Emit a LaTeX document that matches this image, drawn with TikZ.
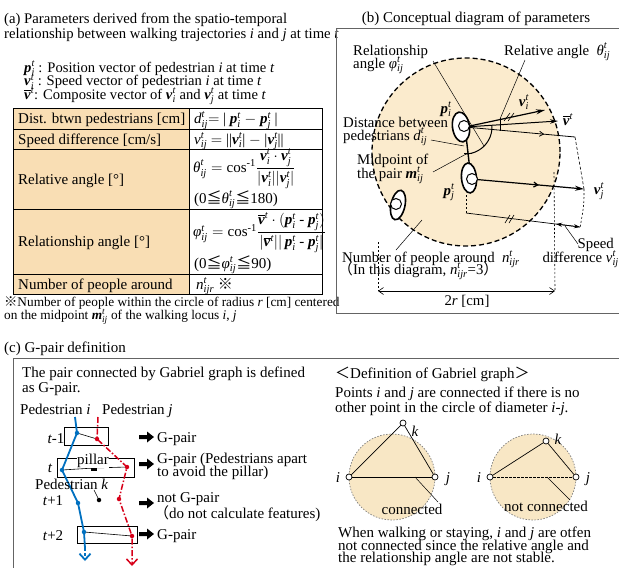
\RequirePackage{fix-cm}
\documentclass[tikz,border=0pt]{standalone}
\usepackage{amsmath}
\usepackage{fontspec}
\setmainfont{Liberation Serif}
\newfontfamily\cjk{Noto Sans CJK JP}
\usetikzlibrary{arrows.meta,calc,shapes.geometric,decorations.markings}

\definecolor{cTan}{RGB}{249,222,180}
\definecolor{cCirc}{RGB}{251,235,205}
\definecolor{cGab}{RGB}{248,231,197}
\definecolor{cBlue}{RGB}{0,112,192}
\definecolor{cRed}{RGB}{215,0,25}
\definecolor{cFrame}{RGB}{100,100,100}

\newcommand\bi[1]{\textbf{\textit{#1}}}
\newcommand\ii[1]{\textit{#1}}
\newcommand\myP[1]{\ensuremath{\bi{p}_{\ii{#1}}^{\ii{t}}}}
\newcommand\myV[1]{\ensuremath{\bi{v}_{\ii{#1}}^{\ii{t}}}}
\newcommand\myVb{\ensuremath{\overline{\bi{v}}^{\ii{t}}}}
\newcommand\myS[2]{\ensuremath{\ii{#1}_{\ii{#2}}^{\ii{t}}}}
\newcommand\myM{\ensuremath{\bi{m}_{\ii{ij}}^{\ii{t}}}}
\newcommand\myN{\ensuremath{\ii{n}_{\ii{ijr}}^{\ii{t}}}}
\newcommand\jp[1]{{\cjk #1}}

\tikzset{
  txt/.style={inner sep=0pt, font=\fontsize{15}{15}\selectfont},
  ttl/.style={inner sep=0pt, font=\fontsize{14.7}{15}\selectfont},
  deftxt/.style={inner sep=0pt, font=\fontsize{14.6}{13}\selectfont},
  lbl/.style={inner sep=0pt, font=\fontsize{14.8}{15}\selectfont},
  ctx/.style={inner sep=0pt, font=\fontsize{15}{15}\selectfont},
  smalltxt/.style={inner sep=0pt, font=\fontsize{15}{12.5}\selectfont},
  foot/.style={inner sep=0pt, font=\fontsize{13.3}{13}\selectfont},
  leader/.style={line width=0.5pt},
  frm/.style={draw=cFrame, line width=0.9pt},
  ped/.style={ellipse, draw, line width=1.6pt, fill=white, inner sep=0pt},
  head/.style={circle, draw, line width=1pt, fill=white, inner sep=0pt, minimum size=11pt},
  vec/.style={line width=1.2pt, -{Stealth[length=9pt,width=5pt]}},
  midarr/.style={postaction={decorate}, decoration={markings, mark=at position #1 with {\arrow{Straight Barb[length=4pt,width=5pt]}}}},
  gpt/.style={circle, draw, fill=white, inner sep=0pt, minimum size=6pt, line width=0.7pt},
  dotpt/.style={circle, fill, inner sep=0pt, minimum size=4.5pt},
  fat/.pic={\fill (0,-2) -- (8,-2) -- (8,-5.5) -- (15,0) -- (8,5.5) -- (8,2) -- (0,2) -- cycle;},
  trajB/.style={cBlue, line width=1.8pt},
  trajR/.style={cRed, line width=1.5pt, dash pattern=on 6pt off 2pt on 1.5pt off 2pt},
  tbox/.style={draw, line width=0.9pt},
}

\begin{document}
\begin{tikzpicture}[x=1pt,y=-1pt]
\useasboundingbox (0,0) rectangle (619,568);

% ================= (a) =================
\node[ttl, anchor=base west] (at1) at (4,23) {(a) Parameters derived from the spatio-temporal};
\node[ttl, anchor=base west] (at2) at (4,38) {relationship between walking trajectories \ii{i} and \ii{j} at time \ii{t}};

\node[deftxt, anchor=base west] (d1) at (24,72) {\myP{i} : Position vector of pedestrian \ii{i} at time \ii{t}};
\node[deftxt, anchor=base west] (d2) at (24,85.5) {\myV{i} : Speed vector of pedestrian \ii{i} at time \ii{t}};
\node[deftxt, anchor=base west] (d3) at (24,99) {\myVb : Composite vector of \myV{i} and \myV{j} at time \ii{t}};

\fill[cTan] (13,108) rectangle (189,294);
\draw[line width=0.8pt] (13,108) rectangle (322,294);
\draw[line width=0.6pt] (189,108) -- (189,294);
\foreach \yy in {129,149,209,274} \draw[line width=0.6pt] (13,\yy) -- (322,\yy);

\node[txt, anchor=base west] (r1l) at (18,123.5) {Dist. btwn pedestrians [cm]};
\node[txt, anchor=base west] (r2l) at (18,144) {Speed difference [cm/s]};
\node[txt, anchor=base west] (r3l) at (18,184) {Relative angle [°]};
\node[txt, anchor=base west] (r4l) at (18,246.5) {Relationship angle [°]};
\node[txt, anchor=base west] (r5l) at (18,289) {Number of people around};

\node[txt, anchor=base west] (r1r) at (194,123.5) {\myS{d}{ij}$=$ | \myP{i} $-$ \myP{j} |};
\node[txt, anchor=base west] (r2r) at (194,144) {\myS{v}{ij} $=$ ||\myV{i}| $-$ |\myV{j}||};
\node[txt, anchor=west] (r3r) at (193,169) {$\ii{θ}_{\ii{ij}}^{\ii{t}} = \text{cos}^{\text{-1}}\dfrac{\myV{i}\cdot\myV{j}}{|\myV{i}||\myV{j}|}$};
\node[txt, anchor=base west] (r3b) at (194,203) {(0\jp{≦}\myS{θ}{ij}\jp{≦}180)};
\node[txt, anchor=west] (r4r) at (193,233) {$\ii{φ}_{\ii{ij}}^{\ii{t}} = \text{cos}^{\text{-1}}\dfrac{\myVb\cdot(\myP{i}\text{ - }\myP{j})}{|\myVb||\,\myP{i}\text{ - }\myP{j}|}$};
\node[txt, anchor=base west] (r4b) at (194,268) {(0\jp{≦}\myS{φ}{ij}\jp{≦}90)};
\node[txt, anchor=base west] (r5r) at (196,289) {\myN\ \jp{※}};

\node[foot, anchor=base west] (f1) at (4,306) {\jp{※}Number of people within the circle of radius \ii{r} [cm] centered};
\node[foot, anchor=base west] (f2) at (4,319) {on the midpoint \myM\ of the walking locus \ii{i}, \ii{j}};

% ================= (b) =================
\node[txt, anchor=base] (btitle) at (476,22) {(b) Conceptual diagram of parameters};
\draw[frm] (619,28) -- (336,28) -- (336,313) -- (619,313);

\fill[cCirc] (466,152) circle[radius=94pt];
\draw[line width=1.3pt, dash pattern=on 5pt off 3pt] (466,152) circle[radius=94pt];

% third pedestrian
\node[ped, minimum width=14pt, minimum height=30pt, rotate=-12] (pk) at (398,205) {};
\node[head] (hk) at (396,204) {};

% i-j line
\coordinate (Oi) at (465,127);
\coordinate (Oj) at (471,179);
\draw[line width=1.4pt] (Oi) -- (Oj);
\coordinate (mid) at (468,153);
\draw[line width=1pt] ($(mid)+(-4,0)$) -- ($(mid)+(4,0)$);

% arc (relationship angle)
\draw[line width=1pt] ($(Oi)+(0pt,-27pt)$) arc[start angle=-90, end angle=3, radius=27pt];

% vectors from i
\coordinate (viE) at (545,110);
\coordinate (vbE) at (558,121);
\coordinate (vjc) at (575,137);
\draw[line width=0.8pt, midarr=0.72] (Oi) -- (vjc);
\draw[line width=1pt, -{Stealth[length=8pt,width=4.5pt]}] (Oi) -- (vbE);
\draw[vec] (Oi) -- (viE);
\draw[line width=0.6pt] (504,121) -- (510,113) (508,121) -- (514,113);
\draw[line width=0.8pt] (500,118) -- (500,131);

% pedestrian j vector
\coordinate (vjE) at (584,189);
\draw[vec, midarr=0.6] (Oj) -- (vjE);
\draw[line width=0.6pt, dash pattern=on 3pt off 2pt] (vjc) -- (vjE);
\draw[line width=0.6pt, dash pattern=on 2pt off 2pt] (vjE) .. controls (584,205) .. (580,228);

% pedestrians i and j
\node[ped, minimum width=17pt, minimum height=30pt, rotate=8] (pi) at (461,127) {};
\node[head] (hi) at (464,126) {};
\node[ped, minimum width=15pt, minimum height=30pt, rotate=5] (pj) at (469,178) {};
\node[head] (hj) at (472,179) {};

% speed difference
\coordinate (sd0) at (466,213);
\coordinate (sd1) at (580,227);
\coordinate (sd2) at (556,224);
\draw[line width=0.6pt, dash pattern=on 2pt off 2pt] (466,195) -- (sd0);
\draw[line width=0.7pt] (sd0) -- (sd1);
\draw[line width=0.7pt, {Stealth[length=6pt,width=4pt]}-{Stealth[length=6pt,width=4pt]}] (sd2) -- (sd1);
\draw[line width=0.6pt] (505,223) -- (510,215) (509,223) -- (514,215);

% 2r
\coordinate (rL) at (378,291);
\coordinate (rR) at (555,291);
\draw[line width=0.6pt, dash pattern=on 2pt off 2pt] (378,242) -- (rL);
\draw[line width=0.6pt, dash pattern=on 2pt off 2pt] (554,172) -- (rR);
\draw[line width=0.6pt, {Straight Barb[length=5pt,width=7pt]}-{Straight Barb[length=5pt,width=7pt]}] (rL) -- (rR);
\node[lbl, anchor=base] (r2) at (467,305) {2\ii{r} [cm]};

% labels
\node[lbl, anchor=base west] (rel1) at (353,55) {Relationship};
\node[lbl, anchor=base west] (rel2) at (353,68) {angle \myS{φ}{ij}};
\coordinate (relA) at (433,61);
\coordinate (relB) at (484,146);
\draw[leader] (relA) -- (relB);

\node[lbl, anchor=base west] (ra) at (504,55) {Relative angle \ \myS{θ}{ij}};
\coordinate (raA) at (525,60);
\coordinate (raB) at (500,119);
\draw[leader] (raA) -- (raB);

\node[lbl, anchor=base] (lpi) at (446,113) {\myP{i}};
\node[lbl, anchor=base] (lpj) at (449,195) {\myP{j}};
\node[lbl, anchor=base] (lvi) at (524,106) {\myV{i}};
\node[lbl, anchor=base] (lvb) at (568,125) {\myVb};
\node[lbl, anchor=base] (lvj) at (599,194) {\myV{j}};

\node[lbl, anchor=base west] (dist1) at (343,127) {Distance between};
\node[lbl, anchor=base west] (dist2) at (343,140) {pedestrians \myS{d}{ij}};
\coordinate (dA) at (431,140);
\coordinate (dB) at (464,146);
\draw[leader] (dA) -- (dB);

\node[lbl, anchor=base west] (mid1) at (357,164) {Midpoint of};
\node[lbl, anchor=base west] (mid2) at (357,178) {the pair \myM};
\coordinate (mA) at (433,172);
\draw[leader] (mA) -- (mid);

\node[lbl, anchor=base west] (np1) at (342,262) {Number of people around \ \myN};
\node[lbl, anchor=base west] (np2) at (338,274) {\jp{（}In this diagram, \myN=3\jp{）}};
\coordinate (nA) at (422,220);
\coordinate (nB) at (396,250);
\draw[leader] (nA) -- (nB);

\node[lbl, anchor=base east] (sp1) at (614,248) {Speed};
\node[lbl, anchor=base east] (sp2) at (619,262) {difference \myS{v}{ij}};
\coordinate (sA) at (565,226);
\coordinate (sB) at (578,244);
\draw[leader] (sA) -- (sB);

% ================= (c) =================
\node[txt, anchor=base west] (ctitle) at (4,352) {(c) G-pair definition};
\draw[frm] (619,358) -- (13,358) -- (13,568);

\node[ctx, anchor=base west] (c1) at (22,377) {The pair connected by Gabriel graph is defined};
\node[ctx, anchor=base west] (c2) at (22,392) {as G-pair.};

\node[ctx, anchor=base west] (pedi) at (20,414) {Pedestrian \ii{i}};
\node[ctx, anchor=base west] (pedj) at (102,414) {Pedestrian \ii{j}};

% boxes
\draw[tbox] (64,427) rectangle (108,445);
\draw[tbox] (57,458) rectangle (134,477);
\draw[tbox] (77,526) rectangle (137,543);

% trajectories
\coordinate (B0) at (75,417);
\coordinate (B1) at (77,433);
\coordinate (B2) at (62,470);
\coordinate (B3) at (78,503);
\coordinate (B4) at (84,532);
\coordinate (B5) at (85,548);
\coordinate (B6) at (85,561);
\coordinate (R0) at (98,417);
\coordinate (R1) at (97,439);
\coordinate (R2) at (127,467);
\coordinate (R3) at (119,499);
\coordinate (R4) at (132,536);
\coordinate (R6) at (132,566);

\draw[line width=0.6pt] (B1) -- (R1);
\node[fill=black, minimum size=6pt, inner sep=0pt] (pillar) at (94,468) {};
\draw[line width=0.6pt] (B2) -- (pillar) -- (R2);
\draw[line width=0.6pt] (B4) -- (R4);

\draw[trajB] (B0) -- (B1) -- (B2) -- (B3) -- (B4) -- (B5);
\draw[cBlue, line width=1.8pt, dash pattern=on 3pt off 2pt, -{Straight Barb[length=6pt,width=11pt]}] (B5) -- (B6);
\draw[trajR, -{Straight Barb[length=6pt,width=11pt]}] (R0) -- (R1) -- (R2) -- (R3) -- (R4) -- (R6);

\foreach \p in {B1,B2,B3,B4} \node[dotpt, fill=cBlue] at (\p) {};
\foreach \p in {R1,R2,R3,R4} \node[dotpt, fill=cRed] at (\p) {};

\node[ctx, fill=white, inner sep=0.5pt, anchor=base] (pil) at (93,464) {pillar};
\node[dotpt] (pk2) at (99,500) {};
\node[ctx, anchor=base west] (pedk) at (35,489) {Pedestrian \ii{k}};
\coordinate (kA) at (94,490);
\draw[leader] (kA) -- (pk2);

\node[ctx, anchor=base] (tm1) at (56,443) {\ii{t}-1};
\node[ctx, anchor=base] (t0) at (50,472) {\ii{t}};
\node[ctx, anchor=base] (tp1) at (53,505) {\ii{t}+1};
\node[ctx, anchor=base] (tp2) at (53,540) {\ii{t}+2};

\pic at (139,437) {fat};
\pic at (139,464) {fat};
\pic at (139,503) {fat};
\pic at (139,534) {fat};

\node[ctx, anchor=base west] (g1) at (157,442) {G-pair};
\node[ctx, anchor=base west] (g2a) at (157,463) {G-pair (Pedestrians apart};
\node[ctx, anchor=base west] (g2b) at (157,476) {to avoid the pillar)};
\node[ctx, anchor=base west] (g3a) at (157,502) {not G-pair};
\node[ctx, anchor=base west] (g3b) at (154,518) {\jp{（}do not calculate features)};
\node[ctx, anchor=base west] (g4) at (157,539) {G-pair};

% Gabriel definition
\node[ctx, anchor=base west] (gd0) at (335,378) {\jp{＜}Definition of Gabriel graph\jp{＞}};
\node[ctx, anchor=base west] (gd1) at (335,397) {Points \ii{i} and \ii{j} are connected if there is no};
\node[ctx, anchor=base west] (gd2) at (335,412) {other point in the circle of diameter \ii{i}-\ii{j}.};

\fill[cGab] (392,477) circle[radius=43pt];
\draw[gray, line width=0.7pt, dash pattern=on 1.5pt off 1.5pt] (392,477) circle[radius=43pt];
\fill[cGab] (533,477) circle[radius=43pt];
\draw[gray, line width=0.7pt, dash pattern=on 1.5pt off 1.5pt] (533,477) circle[radius=43pt];

\node[gpt] (gi1) at (349,477) {};
\node[gpt] (gj1) at (435,477) {};
\node[gpt] (gk1) at (403,423) {};
\draw[line width=0.7pt] (gi1) -- (gk1) -- (gj1);
\draw[line width=0.7pt] (gi1) -- (gj1);
\node[ctx, anchor=base] (li1) at (338,482) {\ii{i}};
\node[ctx, anchor=base] (lj1) at (448,482) {\ii{j}};
\node[ctx, anchor=base] (lk1) at (415,436) {\ii{k}};
\coordinate (cA) at (415,477);
\coordinate (cB) at (438,502);
\draw[leader] (cA) -- (cB);
\node[ctx, anchor=base] (conn) at (412,514) {connected};

\node[gpt] (gi2) at (490,477) {};
\node[gpt] (gj2) at (576,477) {};
\node[gpt] (gk2) at (546,441) {};
\draw[line width=0.7pt] (gi2) -- (gk2) -- (gj2);
\draw[line width=0.7pt, dash pattern=on 2.5pt off 1.5pt] (gi2) -- (gj2);
\node[ctx, anchor=base] (li2) at (479,482) {\ii{i}};
\node[ctx, anchor=base] (lj2) at (588,482) {\ii{j}};
\node[ctx, anchor=base] (lk2) at (558,444) {\ii{k}};
\coordinate (nA2) at (547,477);
\coordinate (nB2) at (570,500);
\draw[leader] (nA2) -- (nB2);
\node[ctx, anchor=base] (nconn) at (546,511) {not connected};

\node[smalltxt, anchor=base west] (w1) at (338,537) {When walking or staying, \ii{i} and \ii{j} are otfen};
\node[smalltxt, anchor=base west] (w2) at (338,550) {not connected since the relative angle and};
\node[smalltxt, anchor=base west] (w3) at (338,562) {the relationship angle are not stable.};

\end{tikzpicture}
\end{document}
